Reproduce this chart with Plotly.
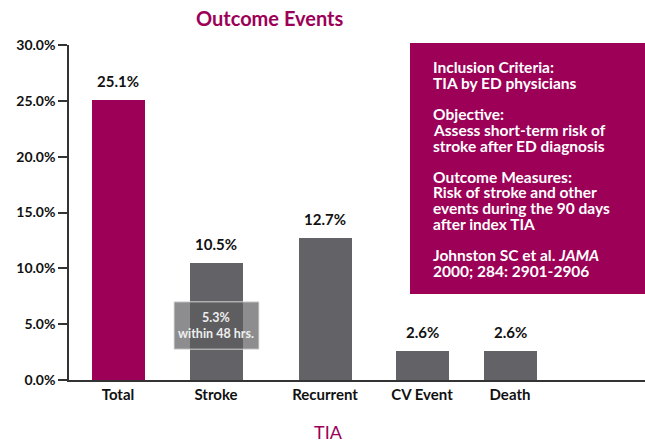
import plotly.graph_objects as go

categories = ["Total", "Stroke", "Recurrent", "CV Event", "Death"]
values = [25.1, 10.5, 12.7, 2.6, 2.6]
value_labels = ["25.1%", "10.5%", "12.7%", "2.6%", "2.6%"]
stroke_48h = 5.3
y_ticks = [0, 5, 10, 15, 20, 25, 30]

info_paragraphs = [
    ["Inclusion Criteria:", "TIA by ED physicians"],
    ["Objective:", "Assess short-term risk of", "stroke after ED diagnosis"],
    ["Outcome Measures:", "Risk of stroke and other", "events during the 90 days", "after index TIA"],
    ["Johnston SC et al. <i>JAMA</i>", "2000; 284: 2901-2906"],
]

# layout positions (pixel-like units along the x axis)
x_pos = [49, 147, 256, 353, 441]

MAG = "#9C0057"
GRAY = "#636367"
FONT = "Lato"
PLOT_H = 335.0

colors = [MAG] + [GRAY] * 4

fig = go.Figure()
fig.add_trace(go.Bar(
    x=x_pos, y=values, width=53, marker=dict(color=colors, line=dict(width=0)),
    hoverinfo="skip",
))

for xv, yv, lab in zip(x_pos, values, value_labels):
    fig.add_annotation(text=f"<b>{lab}</b>", x=xv, y=yv, xref="x", yref="y",
                       showarrow=False, yanchor="middle", yshift=19,
                       font=dict(family=FONT, size=15, color="#111"))

fig.update_layout(
    width=645, height=442,
    margin=dict(l=69, r=0, t=45, b=62),
    plot_bgcolor="white", paper_bgcolor="white",
    showlegend=False,
    bargap=0,
    font=dict(family=FONT, color="#111"),
    xaxis=dict(range=[0, 576], tickvals=x_pos, ticktext=[f"<b>{c}</b>" for c in categories],
               showgrid=False, zeroline=False, showline=True, linecolor="#333",
               linewidth=1.5, ticks="", ticklen=4, tickcolor="white",
               tickfont=dict(family=FONT, size=15, color="#111"),
               fixedrange=True),
    yaxis=dict(range=[0, 30], tickvals=y_ticks, ticktext=[f"<b>{v:.1f}%</b>" for v in y_ticks],
               showgrid=False, zeroline=False, showline=True, linecolor="#333",
               linewidth=1.5, ticks="outside", ticklen=9, tickcolor="#333", tickwidth=1.5,
               tickfont=dict(family=FONT, size=14, color="#111"), fixedrange=True),
)


def py(pix):
    return (380 - pix) / PLOT_H


def px(pix):
    return (pix - 69) / 576.0


# Title
fig.add_annotation(text="<b>Outcome Events</b>", xref="paper", yref="paper",
                   x=px(270), y=py(18), showarrow=False,
                   font=dict(family=FONT, size=20, color=MAG), xanchor="center", yanchor="middle")
# x-axis title
fig.add_annotation(text="TIA", xref="paper", yref="paper",
                   x=px(328), y=py(432), showarrow=False,
                   font=dict(family=FONT, size=18, color=MAG), xanchor="center", yanchor="middle")

# Stroke 48h overlay box
fig.add_shape(type="rect", xref="x", yref="y", x0=105, x1=190, y0=2.76, y1=7.0,
              fillcolor="rgba(93,93,95,0.7)", line=dict(color="rgba(225,225,225,0.9)", width=1),
              layer="above")
fig.add_annotation(text=f"<b>{stroke_48h}%<br>within 48 hrs.</b>", xref="x", yref="y",
                   x=147, y=4.85, showarrow=False,
                   font=dict(family=FONT, size=12.5, color="#eeeeee"), align="center")

# Info box
fig.add_shape(type="rect", xref="paper", yref="paper",
              x0=px(410), x1=1.0, y0=py(294), y1=py(43),
              fillcolor=MAG, line=dict(width=0), layer="above")
ytop = 67.5
for para in info_paragraphs:
    for line in para:
        fig.add_annotation(text=f"<b>{line}</b>", xref="paper", yref="paper",
                           x=px(431), y=py(ytop), showarrow=False,
                           xanchor="left", yanchor="middle", align="left",
                           font=dict(family=FONT, size=15.5, color="white"))
        ytop += 15.8
    ytop += 15.0

fig.write_html("out.html", config={"displayModeBar": False},
               post_script="document.body.style.margin='0';document.body.style.overflow='hidden';")
